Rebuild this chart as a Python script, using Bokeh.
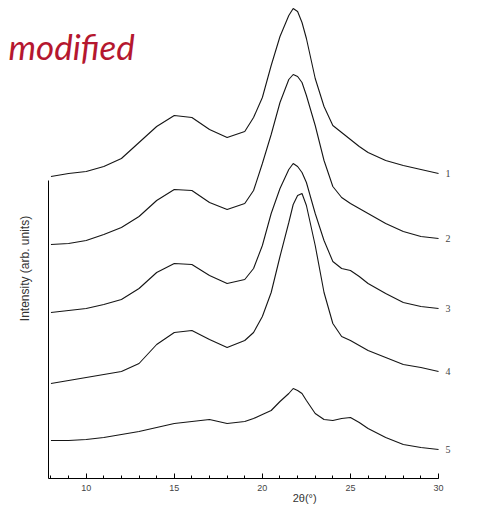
from bokeh.plotting import figure
from bokeh.models import Range1d, LinearAxis, FixedTicker, Label, LabelSet, ColumnDataSource
from bokeh.embed import file_html
from bokeh.resources import INLINE
import math

# 2-theta grid (degrees)
two_theta = [8, 9, 10, 11, 12, 13, 14, 15, 16, 17, 18, 19, 19.5, 20, 20.5, 21, 21.5,
             21.75, 22, 22.25, 22.5, 23, 23.5, 24, 24.5, 25, 25.5, 26, 27, 28, 29, 30]

# stacked intensities (arb. units), curves 1..5 from top to bottom
curve_1 = [302, 305, 307, 312, 320, 336, 352, 363, 361, 349, 341, 347, 361, 381, 413, 442, 463,
           470, 467, 456, 440, 400, 372, 353, 346, 339, 332, 326, 318, 313, 309, 305]
curve_2 = [234, 235, 238, 244, 251, 262, 278, 289, 288, 276, 269, 275, 288, 315, 344, 376, 399,
           404, 402, 396, 383, 353, 318, 292, 281, 275, 270, 265, 255, 247, 242, 240]
curve_3 = [166, 168, 170, 174, 179, 190, 206, 215, 214, 203, 195, 199, 210, 233, 265, 290, 309,
           315, 312, 306, 296, 265, 238, 217, 210, 208, 202, 195, 185, 176, 172, 170]
curve_4 = [95, 98, 101, 104, 107, 115, 134, 146, 148, 139, 131, 138, 146, 162, 186, 222, 256,
           274, 283, 285, 273, 233, 186, 155, 142, 138, 133, 128, 121, 114, 111, 107]
curve_5 = [38, 38, 39, 41, 44, 47, 51, 55, 57, 59, 55, 57, 60, 64, 68, 77, 85,
           90, 88, 85, 78, 65, 59, 58, 60, 61, 56, 50, 41, 34, 31, 29]

curves = [curve_1, curve_2, curve_3, curve_4, curve_5]
curve_names = ["1", "2", "3", "4", "5"]

x_ticks = [10, 15, 20, 25, 30]
x_minor_ticks = list(range(8, 31))
x_start, x_end = 7.86, 30

p = figure(width=465, height=506, output_backend="svg", toolbar_location=None,
           x_range=Range1d(5.136, 31.53), y_range=Range1d(-28, 478),
           min_border_left=0, min_border_right=0, min_border_top=0, min_border_bottom=0,
           x_axis_location=None, y_axis_location=None)
p.outline_line_color = None
p.xgrid.visible = False
p.ygrid.visible = False
p.background_fill_color = "white"
p.border_fill_color = "white"

for c in curves:
    p.line(two_theta, c, line_color="#151515", line_width=1.1)

# bottom axis
xa = LinearAxis(ticker=FixedTicker(ticks=x_ticks, minor_ticks=x_minor_ticks),
                bounds=(x_start, x_end), fixed_location=0)
xa.axis_line_color = "black"
xa.axis_line_width = 1
xa.major_tick_in = 5
xa.major_tick_out = 0
xa.minor_tick_in = 3
xa.minor_tick_out = 0
xa.major_tick_line_color = "black"
xa.minor_tick_line_color = "black"
xa.major_label_text_font = "Liberation Sans"
xa.major_label_text_font_size = "9px"
xa.major_label_text_color = "#444444"
xa.major_label_standoff = 6
p.add_layout(xa, "below")

# partial left axis
ya = LinearAxis(ticker=FixedTicker(ticks=[]), bounds=(0, 298), fixed_location=x_start)
ya.axis_line_color = "black"
ya.axis_line_width = 1
ya.major_tick_line_color = None
ya.minor_tick_line_color = None
ya.major_label_text_font_size = "0px"
ya.major_label_standoff = 0
p.add_layout(ya, "left")

# axis titles
p.add_layout(Label(x=6.55, y=210, text="Intensity (arb. units)", angle=math.pi / 2,
                   text_align="center", text_baseline="middle",
                   text_font="Liberation Sans", text_font_size="12px", text_color="#333333"))
p.add_layout(Label(x=22.4, y=-19, text="2θ(°)", text_align="center", text_baseline="middle",
                   text_font="Liberation Sans", text_font_size="11px", text_color="#333333"))

# curve numbers at the right ends
ends = ColumnDataSource(dict(x=[two_theta[-1]] * len(curves), y=[c[-1] for c in curves], t=curve_names))
p.add_layout(LabelSet(x="x", y="y", text="t", source=ends, x_offset=7, text_align="left",
                      text_baseline="middle", text_font="Liberation Sans", text_font_size="10px",
                      text_color="#444444"))

# slide caption fragment
p.add_layout(Label(x=5.59, y=433, text="modified", text_align="left", text_baseline="alphabetic",
                   text_font="Lato", text_font_style="italic", text_font_size="35px",
                   text_color="#B5172F"))

open("out.html", "w").write(file_html(p, INLINE))
